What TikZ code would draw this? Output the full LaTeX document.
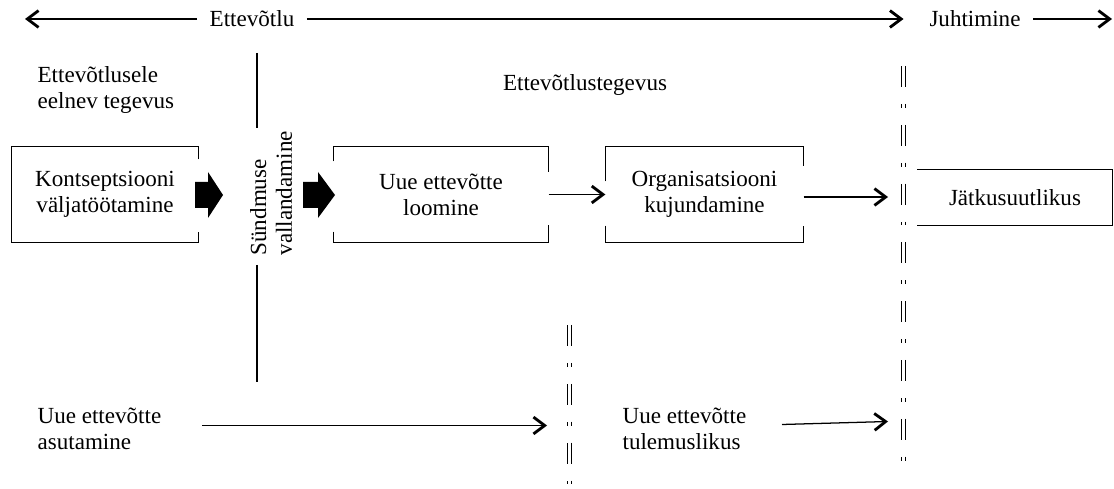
\documentclass[tikz,border=0pt]{standalone}
\usepackage{fontspec}
\setmainfont{Liberation Serif}
\usetikzlibrary{arrows.meta}

\begin{document}
\begin{tikzpicture}[x=0.025cm, y=0.025cm, line width=0.9pt,
        font=\fontsize{16.4}{18.3}\selectfont,
        txt/.style={inner sep=0pt, align=left, anchor=west},
        box/.style={rectangle, inner sep=0pt, align=center},
        arr/.style={-{Straight Barb[length=2.8mm, width=4.2mm, line width=2pt]}},
        fatarr/.style={fill=black},
        dline/.style={double, double distance=1.8pt, line width=0.9pt, dash pattern=on 15pt off 12pt on 2.8pt off 12pt}]

        \useasboundingbox (0,0) rectangle (1114,488);

        % top axis
        \node[inner xsep=0.3cm, inner ysep=0pt] (ettev) at (252,469) {Ettevõtlu};
        \node[inner xsep=0.3cm, inner ysep=0pt] (juht) at (975,469) {Juhtimine};
        \coordinate (leftend) at (25,469);
        \coordinate (lim) at (903.5,469);
        \coordinate (rightend) at (1112,469);
        \draw[arr] (ettev.west) -- (leftend);
        \draw[arr] (ettev.east) -- (lim);
        \draw[arr] (juht.east) -- (rightend);

        \node[txt] (eeln) at (37,398) {Ettevõtlusele\\eelnev tegevus};
        \node[inner sep=0pt] (tegev) at (585,403) {Ettevõtlustegevus};

        % event line
        \node[txt, rotate=90] (vall) at (271,232) {Sündmuse\\vallandamine};
        \coordinate (v1) at (257,435);
        \coordinate (v2) at (257,360);
        \coordinate (v3) at (257,223);
        \coordinate (v4) at (257,106);
        \draw (v1) -- (v2);
        \draw (v3) -- (v4);

        % boxes
        \node[box, minimum width=4.65cm, minimum height=2.375cm] (konts) at (105,293.5) {Kontseptsiooni\\väljatöötamine};
        \node[box, minimum width=5.35cm, minimum height=2.375cm] (loom) at (441,293.5) {Uue ettevõtte\\loomine};
        \node[box, minimum width=4.925cm, minimum height=2.375cm] (org) at (704.5,293.5) {Organisatsiooni\\kujundamine};
        \node[box, minimum width=4.85cm, minimum height=1.375cm] (jatk) at (1015,290.5) {Jätkusuutlikus};

        \draw (konts.north east) ++(0,-13) -- (konts.north east) -- (konts.north west) -- (konts.south west) -- (konts.south east) -- ++(0,11);
        \draw (loom.north west) ++(0,-15) -- (loom.north west) -- (loom.north east) -- ++(0,-26);
        \draw (loom.south west) ++(0,11) -- (loom.south west) -- (loom.south east) -- ++(0,18);
        \draw (org.north west) ++(0,-35) -- (org.north west) -- (org.north east) -- ++(0,-20);
        \draw (org.south west) ++(0,17) -- (org.south west) -- (org.south east) -- ++(0,17);
        \draw (jatk.north west) -- (jatk.north east) -- (jatk.south east) -- (jatk.south west);

        \fill[fatarr] (195,306) -- (208,306) -- (208,316) -- (223,293) -- (208,270) -- (208,280) -- (195,280) -- cycle;
        \fill[fatarr] (303,306) -- (318,306) -- (318,316) -- (335,293) -- (318,270) -- (318,280) -- (303,280) -- cycle;

        \coordinate (jend) at (888,291);
        \draw[arr] (loom.east) -- (org.west);
        \draw[arr] (org.east |- jend) -- (jend);

        % limits
        \draw[dline] (903.5,422) coordinate (d1a) -- (903.5,23) coordinate (d1b);
        \draw[dline] (569.5,163) coordinate (d2a) -- (569.5,0) coordinate (d2b);

        % bottom row
        \node[txt] (asut) at (37,59.5) {Uue ettevõtte\\asutamine};
        \node[txt] (tulem) at (622,59.5) {Uue ettevõtte\\tulemuslikus};
        \coordinate (a1) at (202,62.5);
        \coordinate (a2) at (547,62.5);
        \coordinate (t1) at (782,63.5);
        \coordinate (t2) at (888,66.5);
        \draw[arr] (a1) -- (a2);
        \draw[arr] (t1) -- (t2);

    \end{tikzpicture}
\end{document}
